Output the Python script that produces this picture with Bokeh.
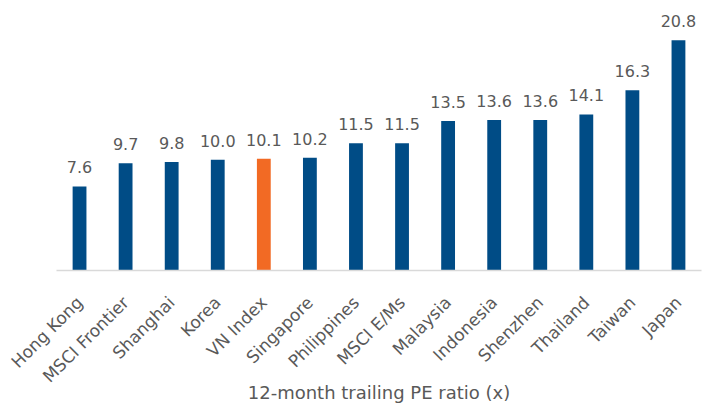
from bokeh.plotting import figure
from bokeh.models import ColumnDataSource, LabelSet, Range1d
from bokeh.core.properties import value
from bokeh.embed import file_html
from bokeh.resources import INLINE

markets = ["Hong Kong", "MSCI Frontier", "Shanghai", "Korea", "VN Index", "Singapore",
           "Philippines", "MSCI E/Ms", "Malaysia", "Indonesia", "Shenzhen", "Thailand",
           "Taiwan", "Japan"]
pe_ratio = [7.6, 9.7, 9.8, 10.0, 10.1, 10.2, 11.5, 11.5, 13.5, 13.6, 13.6, 14.1, 16.3, 20.8]
highlight = "VN Index"

BLUE = "#004C86"
ORANGE = "#F26A24"
GREY = "#595959"

colors = [ORANGE if m == highlight else BLUE for m in markets]
labels = [f"{v:.1f}" for v in pe_ratio]

src = ColumnDataSource(data=dict(x=markets, top=pe_ratio, color=colors, label=labels))

p = figure(x_range=markets, width=704, height=406, output_backend="svg",
           toolbar_location=None, min_border_left=56, min_border_right=3,
           min_border_top=0, min_border_bottom=0)
p.y_range = Range1d(0, 24.4)
p.x_range.range_padding = 0

p.vbar(x="x", top="top", width=0.3, color="color", source=src, line_width=0)

p.add_layout(LabelSet(x="x", y="top", text="label", source=src, text_align="center",
                      text_baseline="alphabetic", y_offset=13, text_color=GREY,
                      text_font_size="16px", text_font=value("DejaVu Sans")))

p.yaxis.visible = False
p.xgrid.grid_line_color = None
p.ygrid.grid_line_color = None
p.outline_line_color = None

ax = p.xaxis[0]
ax.axis_line_color = "#D9D9D9"
ax.axis_line_width = 1.5
ax.major_tick_line_color = None
ax.minor_tick_line_color = None
ax.major_label_orientation = 0.785398
ax.major_label_text_font = "DejaVu Sans"
ax.major_label_text_font_size = "17px"
ax.major_label_text_color = GREY
ax.major_label_standoff = 23
ax.axis_label = "12-month trailing PE ratio (x)"
ax.axis_label_text_font = "DejaVu Sans"
ax.axis_label_text_font_size = "18px"
ax.axis_label_text_font_style = "normal"
ax.axis_label_text_color = GREY
ax.axis_label_standoff = -14

open("out.html", "w").write(file_html(p, INLINE))
